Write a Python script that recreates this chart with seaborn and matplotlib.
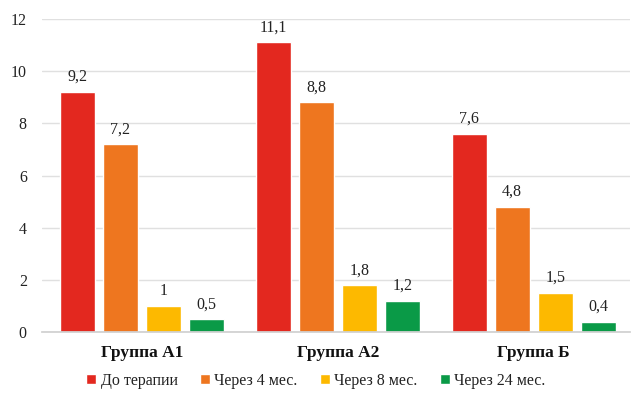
import matplotlib
matplotlib.use("Agg")
import matplotlib.pyplot as plt
import seaborn as sns
import pandas as pd

groups = ["Группа А1", "Группа А2", "Группа Б"]
periods = ["До терапии", "Через 4 мес.", "Через 8 мес.", "Через 24 мес."]
before = [9.2, 11.1, 7.6]
after_4 = [7.2, 8.8, 4.8]
after_8 = [1.0, 1.8, 1.5]
after_24 = [0.5, 1.2, 0.4]
colors = ["#E3281F", "#EE761F", "#FDB900", "#0A9A47"]

series = [before, after_4, after_8, after_24]
rows = []
for period, vals in zip(periods, series):
    for g, v in zip(groups, vals):
        rows.append({"group": g, "period": period, "value": v})
df = pd.DataFrame(rows)

sns.set_theme(style="white")
plt.rcParams["font.family"] = ["Liberation Serif", "DejaVu Serif"]

fig = plt.figure(figsize=(6.38, 3.94), dpi=100)
ax = fig.add_axes([0.066, 0.157, 0.921, 0.795])

sns.barplot(data=df, x="group", y="value", hue="period", hue_order=periods,
            order=groups, palette=colors, width=0.88, gap=0.19,
            saturation=1, ax=ax, legend=True)

def fmt(v):
    s = f"{v:g}"
    return s.replace(".", ",")

for container, vals in zip(ax.containers, series):
    ax.bar_label(container, labels=[fmt(v) for v in vals], padding=5,
                 fontsize=11.5, color="#222222")

ax.set_ylim(0, 12)
ax.set_yticks(range(0, 13, 2))
ax.yaxis.grid(True, color="#E0E0E0", linewidth=1)
ax.set_axisbelow(True)
for s in ["left", "right", "top"]:
    ax.spines[s].set_visible(False)
ax.spines["bottom"].set_color("#D0D0D0")
ax.set_xlabel("")
ax.set_ylabel("")
ax.tick_params(axis="y", labelsize=11.5, colors="#222222", length=0, pad=11)
ax.tick_params(axis="x", labelsize=12.5, colors="#111111", length=0, pad=9)
for lab in ax.get_xticklabels():
    lab.set_fontweight("bold")
ax.set_xlim(-0.51, 2.49)

leg = ax.legend(loc="center", bbox_to_anchor=(0.466, -0.155), ncol=4,
                frameon=False, fontsize=11.5, handlelength=0.6, handleheight=0.6,
                handletextpad=0.3, columnspacing=1.4)
for t in leg.get_texts():
    t.set_color("#222222")

fig.savefig("out.png", dpi=100)
